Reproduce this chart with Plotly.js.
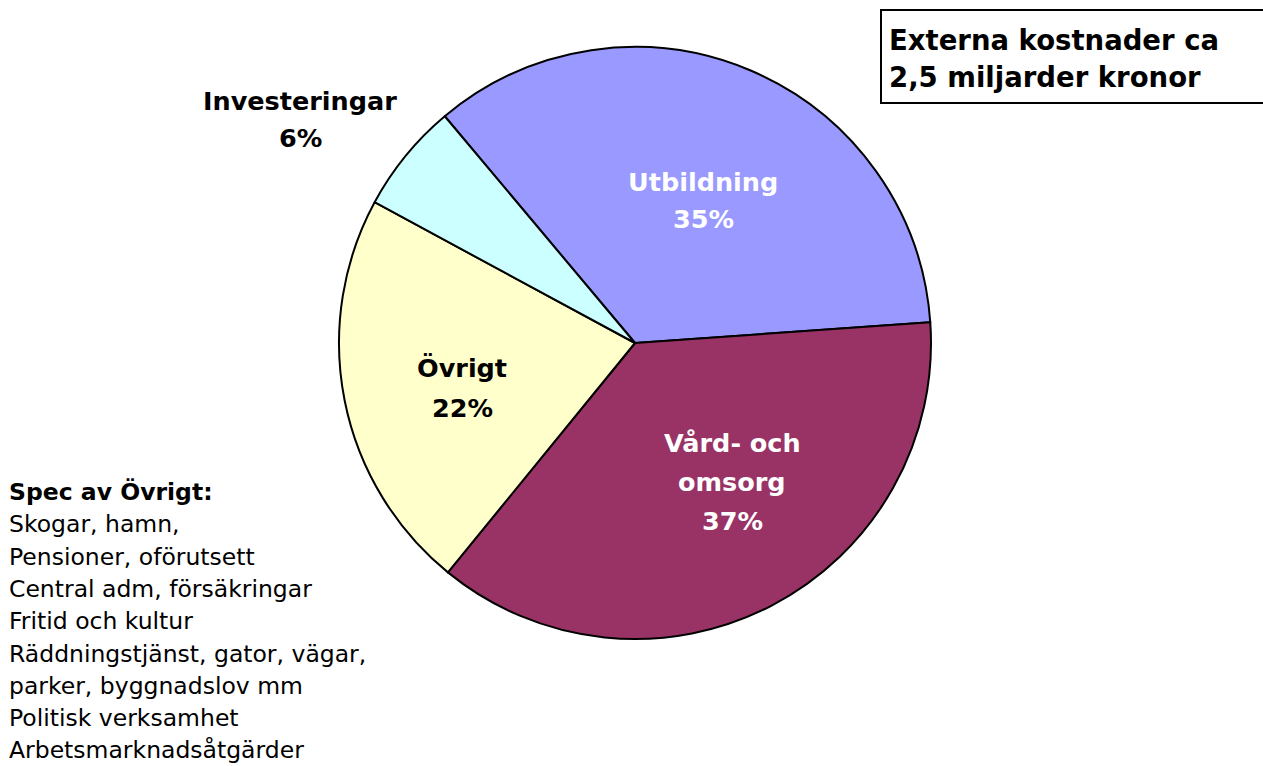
<!DOCTYPE html>
<html>
<head>
<meta charset="utf-8">
<script src="https://cdn.plot.ly/plotly-3.0.1.min.js"></script>
<style>html,body{margin:0;padding:0;background:#fff;}#chart{width:1263px;height:766px;}</style>
</head>
<body>
<div id="chart"></div>
<script>
var categories = ['Utbildning', 'Vård- och omsorg', 'Övrigt', 'Investeringar'];
var sliceLabelLines = [['Utbildning'], ['Vård- och', 'omsorg'], ['Övrigt'], ['Investeringar']];
var shares = [35, 37, 22, 6];
var sliceColors = ['#9999FF', '#993366', '#FFFFCC', '#CCFFFF'];
var textColors = ['#FFFFFF', '#FFFFFF', '#000000', '#000000'];
var titleLines = ['Externa kostnader ca', '2,5 miljarder kronor'];
var specTitle = 'Spec av Övrigt:';
var specLines = ['Skogar, hamn,', 'Pensioner, oförutsett', 'Central adm, försäkringar', 'Fritid och kultur',
  'Räddningstjänst, gator, vägar,', 'parker, byggnadslov mm', 'Politisk verksamhet', 'Arbetsmarknadsåtgärder'];

var W = 1263, H = 766;
var font = '"DejaVu Sans", sans-serif';

// label layout in pixels: centre x, first line centre y, line step
var labelPos = [[703, 182, 37], [732, 443, 39], [462, 368, 40], [300, 101, 37]];

var trace = {
  type: 'pie',
  labels: categories,
  values: shares,
  textinfo: 'none',
  sort: false,
  direction: 'clockwise',
  rotation: -40,
  marker: { colors: sliceColors, line: { color: '#000000', width: 2 } },
  domain: { x: [339 / W, 931 / W], y: [1 - 639 / H, 1 - 47 / H] },
  hoverinfo: 'label+percent',
  showlegend: false
};

var annotations = [];
titleLines.forEach(function (t, i) {
  annotations.push({
    xref: 'paper', yref: 'paper', x: 888 / W, y: 1 - (40 + 37 * i) / H, xanchor: 'left', yanchor: 'middle',
    text: t, align: 'left', showarrow: false, borderpad: 0,
    font: { family: font, size: 27.5, color: '#000000', weight: 'bold' }
  });
});
sliceLabelLines.forEach(function (lines, i) {
  lines.concat([shares[i] + '%']).forEach(function (t, j) {
    annotations.push({
      xref: 'paper', yref: 'paper', x: labelPos[i][0] / W, y: 1 - (labelPos[i][1] + labelPos[i][2] * j) / H,
      xanchor: 'center', yanchor: 'middle',
      text: t, align: 'center', showarrow: false, borderpad: 0,
      font: { family: font, size: 25.5, color: textColors[i], weight: 'bold' }
    });
  });
});
[('<b>' + specTitle + '</b>')].concat(specLines).forEach(function (t, i) {
  annotations.push({
    xref: 'paper', yref: 'paper', x: 8 / W, y: 1 - (492 + 32.3 * i) / H, xanchor: 'left', yanchor: 'middle',
    text: t, align: 'left', showarrow: false, borderpad: 0,
    font: { family: font, size: 23.5, color: '#000000' }
  });
});

var layout = {
  width: W, height: H,
  margin: { l: 0, r: 0, t: 0, b: 0 },
  paper_bgcolor: '#FFFFFF',
  showlegend: false,
  shapes: [{
    type: 'rect', xref: 'paper', yref: 'paper',
    x0: 881 / W, x1: 1275 / W, y0: 1 - 103 / H, y1: 1 - 10 / H,
    line: { color: '#000000', width: 2 }, fillcolor: 'rgba(0,0,0,0)'
  }],
  annotations: annotations
};

Plotly.newPlot('chart', [trace], layout, { displayModeBar: false, staticPlot: true });
</script>
</body>
</html>
